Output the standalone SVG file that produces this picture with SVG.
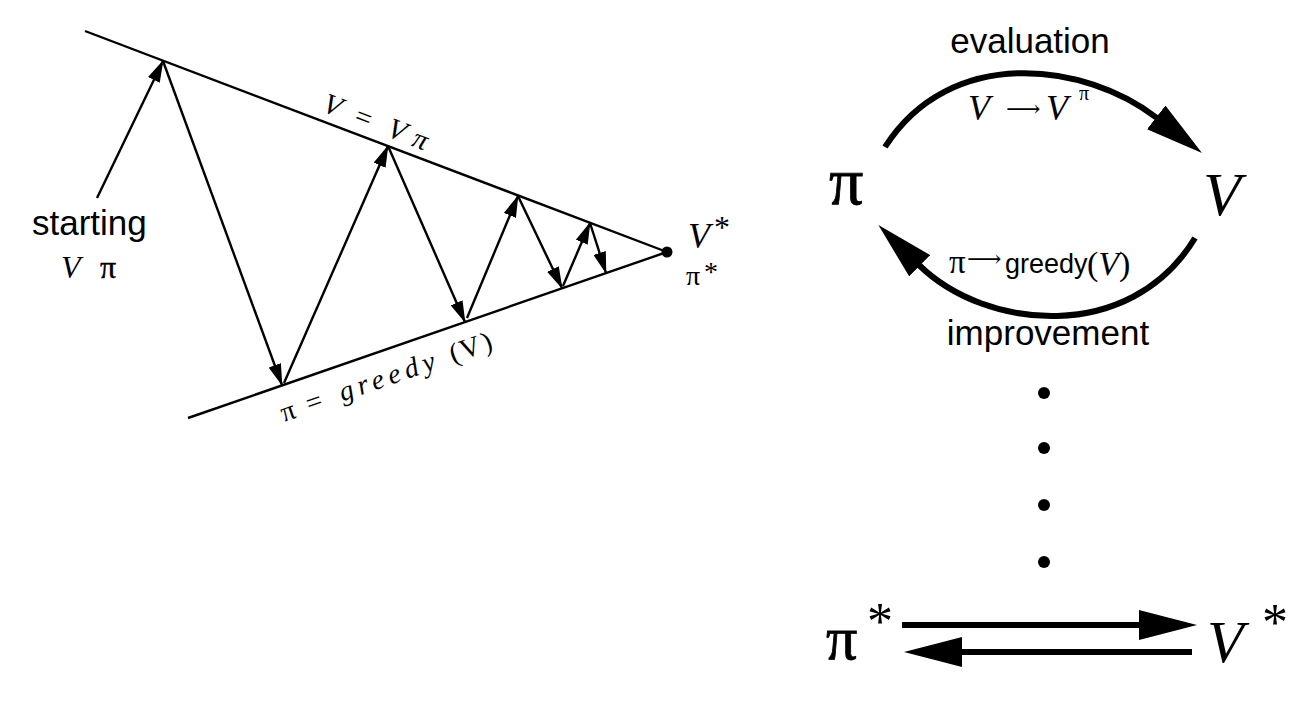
<svg xmlns="http://www.w3.org/2000/svg" width="1298" height="708" viewBox="0 0 1298 708">
<style>
.thin{stroke:#000;stroke-width:2.4;fill:none}
.thick{stroke:#000;stroke-width:6;fill:none}
.sans{font-family:"Liberation Sans",Arial,sans-serif;fill:#000}
.serif{font-family:"Liberation Serif","Times New Roman",serif;fill:#000}
.arr{font-family:"DejaVu Serif","DejaVu Sans",serif;fill:#000}
.it{font-style:italic}
.bold{stroke:#000;stroke-width:0.8}
</style>
<defs>
<marker id="ah" markerUnits="userSpaceOnUse" viewBox="0 0 22 13" refX="21" refY="6.5" markerWidth="22" markerHeight="13" orient="auto"><path d="M0,0 L22,6.5 L0,13 z" fill="#000"/></marker>
<marker id="big" markerUnits="userSpaceOnUse" viewBox="0 0 58 30" refX="1" refY="15" markerWidth="58" markerHeight="30" orient="auto"><path d="M0,0 L58,15 L0,30 z" fill="#000"/></marker>
</defs>
<rect width="1298" height="708" fill="#fff"/>

<g id="left-diagram">
  <line class="thin" x1="85" y1="31" x2="667" y2="252"/>
  <line class="thin" x1="188" y1="418" x2="667" y2="252"/>
  <circle cx="667" cy="252" r="5.5" fill="#000"/>
  <g id="zigzag">
    <path class="thin" d="M97,198 L163,61" marker-end="url(#ah)"/>
    <path class="thin" d="M163,61 L282,385" marker-end="url(#ah)"/>
    <path class="thin" d="M284,383 L388,146" marker-end="url(#ah)"/>
    <path class="thin" d="M388,146 L465,322" marker-end="url(#ah)"/>
    <path class="thin" d="M467,318 L518,196" marker-end="url(#ah)"/>
    <path class="thin" d="M518,196 L562,288" marker-end="url(#ah)"/>
    <path class="thin" d="M563,286 L590,223" marker-end="url(#ah)"/>
    <path class="thin" d="M590,223 L606,273" marker-end="url(#ah)"/>
  </g>
  <text class="serif" font-size="29" transform="translate(321,111) rotate(21)"><tspan class="it" x="0">V</tspan><tspan x="34">=</tspan><tspan class="it" x="69">V</tspan><tspan class="it" x="96">π</tspan></text>
  <text class="serif" font-size="28" transform="translate(284,422) rotate(-19.2)"><tspan x="0">π</tspan><tspan x="27">=</tspan><tspan class="it" x="62" letter-spacing="5">greedy</tspan><tspan x="179">(</tspan><tspan x="190">V</tspan><tspan x="213">)</tspan></text>
  <text class="sans" font-size="35" x="32" y="235">starting</text>
  <text class="serif" font-size="32" y="278"><tspan class="it" x="61">V</tspan><tspan class="bold" style="stroke-width:0.4" x="100">π</tspan></text>
  <text class="serif" font-size="36" y="248"><tspan class="it" x="688">V</tspan><tspan font-size="32" x="714" dy="-10">*</tspan></text>
  <text class="serif" font-size="28" y="285"><tspan x="686">π</tspan><tspan font-size="28" x="704" dy="-4">*</tspan></text>
</g>

<g id="node-pi"><text class="serif bold" font-size="68" x="829" y="204">π</text></g>
<g id="node-V"><text class="serif it" font-size="62" x="1203" y="215">V</text></g>
<g id="node-pistar"><text class="serif" font-size="62" y="659"><tspan class="bold" x="826">π</tspan><tspan font-size="52" x="867" dy="-20">*</tspan></text></g>
<g id="node-Vstar"><text class="serif" font-size="60" y="662"><tspan class="it" x="1207">V</tspan><tspan font-size="52" x="1262" dy="-22">*</tspan></text></g>

<g id="dots">
  <circle cx="1044" cy="393" r="6"/>
  <circle cx="1044" cy="448" r="6"/>
  <circle cx="1044" cy="505" r="6"/>
  <circle cx="1044" cy="562" r="6"/>
</g>

<g id="connectors">
  <path class="thick" d="M885,147 C950,45 1085,62 1157,118" marker-end="url(#big)"/>
  <path class="thick" d="M1195,238 C1130,345 985,330 919,265" marker-end="url(#big)"/>
  <path class="thick" d="M902,625 L1140,625" marker-end="url(#big)"/>
  <path class="thick" d="M1192,652 L961,652" marker-end="url(#big)"/>
</g>

<g id="labels">
  <text class="sans" font-size="35" x="1030" y="53" text-anchor="middle">evaluation</text>
  <text y="120"><tspan class="serif it" font-size="36" x="968">V</tspan><tspan class="arr" x="1006" font-size="24" dy="-3">⟶</tspan><tspan class="serif it" font-size="36" x="1046" dy="3">V</tspan><tspan class="serif" x="1079" font-size="20" dy="-20">π</tspan></text>
  <text y="273"><tspan class="serif" font-size="33" x="949">π</tspan><tspan class="arr" font-size="24" x="967" dy="-6">⟶</tspan><tspan class="sans" font-size="27" x="1005" dy="6">greedy</tspan><tspan class="serif" font-size="34" x="1087" dy="2">(</tspan><tspan class="serif it" font-size="34">V</tspan><tspan class="serif" font-size="34">)</tspan></text>
  <text class="sans" font-size="35" x="1048" y="345" text-anchor="middle">improvement</text>
</g>
</svg>
